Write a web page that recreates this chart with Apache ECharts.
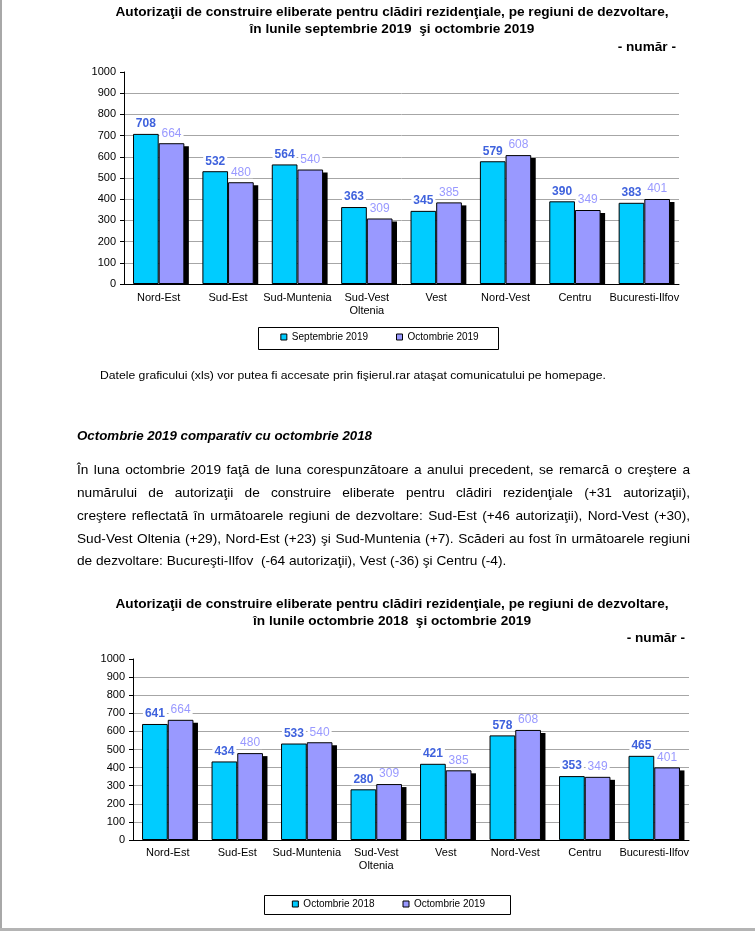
<!DOCTYPE html>
<html><head><meta charset="utf-8">
<script src="https://cdn.jsdelivr.net/npm/echarts@6/dist/echarts.min.js"></script>
<style>html,body{margin:0;padding:0;background:#fff}#c{width:755px;height:931px}</style>
</head><body><div id="c"></div>
<script>
// ---- data ----
const regions = ['Nord-Est','Sud-Est','Sud-Muntenia','Sud-Vest\nOltenia','Vest','Nord-Vest','Centru','Bucuresti-Ilfov'];
const sep2019 = [708,532,564,363,345,579,390,383];
const oct2019 = [664,480,540,309,385,608,349,401];
const oct2018 = [641,434,533,280,421,578,353,465];
const oct2019b = [664,480,540,309,385,608,349,401];
const yMin = 0, yMax = 1000, yStep = 100;
const names1 = ['Septembrie 2019','Octombrie 2019'];
const names2 = ['Octombrie 2018','Octombrie 2019'];

const title1 = ['Autorizaţii de construire eliberate pentru clădiri rezidenţiale, pe regiuni de dezvoltare,','în lunile septembrie 2019  şi octombrie 2019'];
const title2 = ['Autorizaţii de construire eliberate pentru clădiri rezidenţiale, pe regiuni de dezvoltare,','în lunile octombrie 2018  şi octombrie 2019'];
const unitText = '- număr -';
const noteText = 'Datele graficului (xls) vor putea fi accesate prin fişierul.rar ataşat comunicatului pe homepage.';
const headingText = 'Octombrie 2019 comparativ cu octombrie 2018';
const paraLines = [
 'În luna octombrie 2019 faţă de luna corespunzătoare a anului precedent, se remarcă o creştere a',
 'numărului de autorizaţii de construire eliberate pentru clădiri rezidenţiale (+31 autorizaţii),',
 'creştere reflectată în următoarele regiuni de dezvoltare: Sud-Est (+46 autorizaţii), Nord-Vest (+30),',
 'Sud-Vest Oltenia (+29), Nord-Est (+23) şi Sud-Muntenia (+7). Scăderi au fost în următoarele regiuni',
 'de dezvoltare: Bucureşti-Ilfov  (-64 autorizaţii), Vest (-36) şi Centru (-4).'
];

// ---- helpers ----
const FAM = "'Liberation Sans', Arial, sans-serif";
const ctx = document.createElement('canvas').getContext('2d');
function fnt(size, weight, style){ return (style||'normal')+' '+(weight||'normal')+' '+size+'px '+FAM; }
function tw(text, font){ ctx.font = font; return ctx.measureText(text).width; }

const CYAN='#00CCFF', PURP='#9999FF', LBL1='#3F62DD', LBL2='#9999FF';
const graphics = [];
// text element: x,y anchor; sx horizontal scale (narrow face like the original document font)
function txt(text, x, y, size, weight, style, align, sx){
  graphics.push({type:'text', silent:true, x, y, scaleX: sx||1,
    style:{text, x:0, y:0, font: fnt(size,weight,style), fill:'#000', textAlign: align||'left', textVerticalAlign:'middle'}});
}
// titles
const TS = 13;
const tSx = 553 / tw(title1[0], fnt(TS,'bold'));
txt(title1[0], 392, 12, TS, 'bold', 'normal', 'center', tSx);
txt(title1[1], 392, 29, TS, 'bold', 'normal', 'center', tSx);
txt(unitText, 676, 47, TS, 'bold', 'normal', 'right', tSx);
txt(title2[0], 392, 604, TS, 'bold', 'normal', 'center', tSx);
txt(title2[1], 392, 621, TS, 'bold', 'normal', 'center', tSx);
txt(unitText, 685, 638, TS, 'bold', 'normal', 'right', tSx);
// note
txt(noteText, 100, 376, 11.5, 'normal','normal','left', 506/tw(noteText, fnt(11.5)));
// heading
txt(headingText, 77, 436, 13, 'bold','italic','left', 295/tw(headingText, fnt(13,'bold','italic')));
// paragraph justified
const pX0 = 77, pW = 613, PS = 13;
const pFont = fnt(PS);
let pSx = 469 / tw(paraLines[4], pFont);
paraLines.slice(0,4).forEach(l=>{ pSx = Math.min(pSx, (pW-10)/tw(l,pFont)); });
const pY = [470,493,516,539,561];
paraLines.forEach((line,i)=>{
  if(i===paraLines.length-1){ txt(line, pX0, pY[i], PS, 'normal','normal','left', pSx); return; }
  const words = line.split(' ');
  const ws = words.map(w=>tw(w,pFont)*pSx);
  const gap = (pW - ws.reduce((a,b)=>a+b,0))/(words.length-1);
  let x = pX0;
  words.forEach((w,k)=>{ txt(w, x, pY[i], PS,'normal','normal','left', pSx); x += ws[k]+gap; });
});
// legend boxes
function legendBox(x,y,w,h){ graphics.push({type:'rect', silent:true, shape:{x:x+0.5,y:y+0.5,width:w,height:h}, style:{fill:'#fff', stroke:'#000', lineWidth:1}, z:-1}); }
legendBox(258,327,240,22);
legendBox(264,895,246,19);
// page frame
graphics.push({type:'rect', silent:true, shape:{x:0,y:0,width:2,height:931}, style:{fill:'#a8a8a8'}});
graphics.push({type:'rect', silent:true, shape:{x:0,y:928,width:755,height:3}, style:{fill:'#b4b4b4'}});

function legendLeft(names, center){
  const f = fnt(10);
  let total = 0; names.forEach((n,i)=>{ total += 6+5+tw(n,f) + (i? 28:0); });
  return center - total/2;
}

const nLines = (yMax-yMin)/yStep + 1;
const splitColors = Array.from({length:nLines},(_, i)=> i===nLines-1 ? 'rgba(0,0,0,0)' : '#a6a6a6');
const GAP = 0.26;

function xAx(gi, margin){ return {type:'category', gridIndex:gi, data:regions,
  axisLine:{lineStyle:{color:'#000',width:1}}, axisTick:{length:4, lineStyle:{color:'#000'}},
  axisLabel:{color:'#000', fontSize:11, fontFamily:FAM, margin:margin, interval:0, lineHeight:13}}; }
function yAx(gi){ return {type:'value', gridIndex:gi, min:yMin, max:yMax, interval:yStep,
  axisLine:{show:true, lineStyle:{color:'#000'}}, axisTick:{show:true, length:4, lineStyle:{color:'#000'}},
  axisLabel:{color:'#000', fontSize:11, fontFamily:FAM, margin:8, formatter:v=>String(v)},
  splitLine:{show:true, lineStyle:{color:splitColors, width:1}}}; }
function bar(name, data, gi, color, lblColor, bold){
  return {type:'bar', name, data, xAxisIndex:gi, yAxisIndex:gi, barGap:'0%', barCategoryGap:(GAP*100)+'%', z:3,
    itemStyle:{color, borderColor:'#000', borderWidth:1},
    label:{show:true, position:'top', distance:4, color:lblColor, fontSize:12, fontWeight: bold?'bold':'normal', fontFamily:FAM, backgroundColor:'#fff', padding:[0,2]},
    emphasis:{disabled:true}, animation:false};
}
// drop shadow behind the right-hand bar of each group, placed via the axis scales
function shadow(data, gi){
  return {type:'custom', xAxisIndex:gi, yAxisIndex:gi, z:2, silent:true, animation:false,
    data: data.map((v,i)=>[i,v]), encode:{x:0,y:1},
    renderItem:(params, api)=>{
      const top = api.coord([api.value(0), api.value(1)]);
      const base = api.coord([api.value(0), 0]);
      const band = api.size([1,0])[0];
      const right = top[0] + band*(1-GAP)/2;
      return {type:'rect', shape:{x:right-4, y:top[1]+3, width:8.5, height:base[1]-top[1]-3}, style:{fill:'#000'}};
    }};
}

const chart = echarts.init(document.getElementById('c'), null, {renderer:'canvas'});
chart.setOption({
  backgroundColor:'#fff',
  animation:false,
  grid:[{left:124, top:72, width:555, height:212}, {left:133, top:659, width:556, height:181}],
  xAxis:[xAx(0,7), xAx(1,6)],
  yAxis:[yAx(0), yAx(1)],
  legend:[
    {data:names1, left:legendLeft(names1,379), top:332, itemWidth:6, itemHeight:6, itemGap:28, icon:'rect', padding:0,
     textStyle:{fontSize:10, fontFamily:FAM, color:'#000'}, itemStyle:{borderColor:'#000', borderWidth:1}, selectedMode:false},
    {data:names2, left:legendLeft(names2,388), top:899, itemWidth:6, itemHeight:6, itemGap:28, icon:'rect', padding:0,
     textStyle:{fontSize:10, fontFamily:FAM, color:'#000'}, itemStyle:{borderColor:'#000', borderWidth:1}, selectedMode:false}
  ],
  series:[
    shadow(oct2019, 0),
    shadow(oct2019b, 1),
    bar(names1[0], sep2019, 0, CYAN, LBL1, true),
    bar(names1[1], oct2019, 0, PURP, LBL2, false),
    bar(names2[0], oct2018, 1, CYAN, LBL1, true),
    bar(names2[1], oct2019b, 1, PURP, LBL2, false)
  ],
  graphic:{elements:graphics}
});
</script></body></html>
